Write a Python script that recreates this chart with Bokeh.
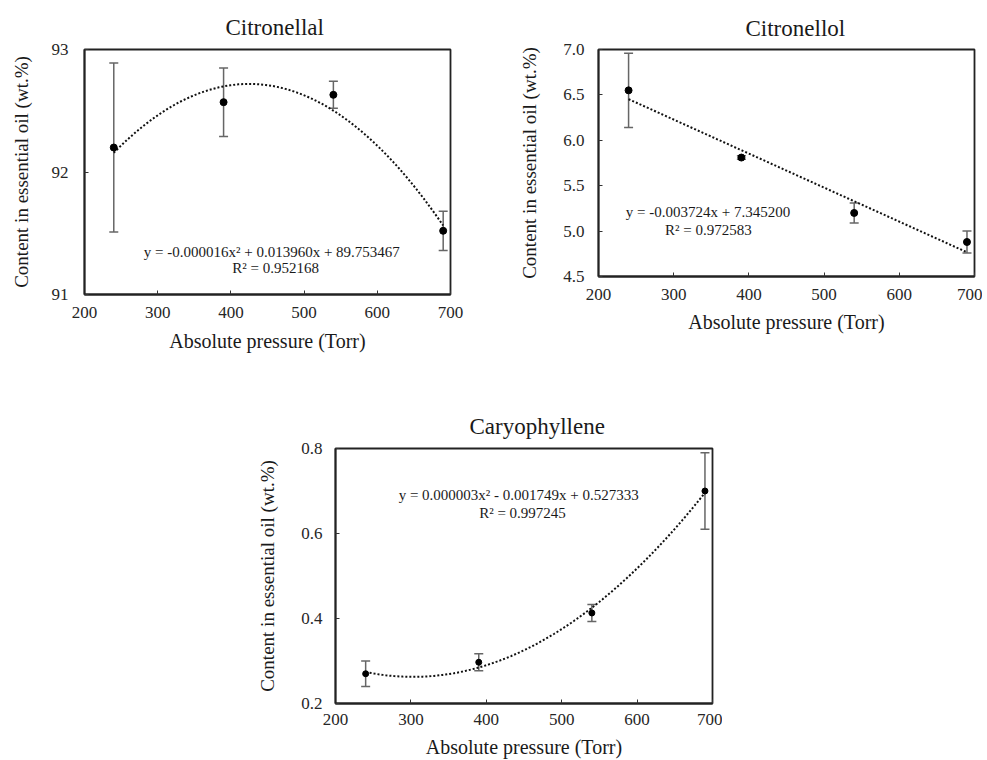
import numpy as np
from bokeh.plotting import figure
from bokeh.layouts import column, row
from bokeh.models import (Range1d, FixedTicker, PrintfTickFormatter, Whisker, TeeHead,
                          ColumnDataSource, Label, Spacer)
from bokeh.embed import file_html
from bokeh.resources import INLINE

# ---------------- data ----------------
pressure = [240, 390, 540, 690]

citronellal = [92.20, 92.57, 92.63, 91.52]
citronellal_err = [0.69, 0.28, 0.11, 0.16]

citronellol = [6.55, 5.81, 5.20, 4.88]
citronellol_err = [0.41, 0.02, 0.11, 0.12]

caryophyllene = [0.270, 0.297, 0.413, 0.700]
caryophyllene_err = [0.030, 0.020, 0.020, 0.090]

x_ticks = [200, 300, 400, 500, 600, 700]
citronellal_ticks = [91, 92, 93]
citronellol_ticks = [4.5, 5.0, 5.5, 6.0, 6.5, 7.0]
caryophyllene_ticks = [0.2, 0.4, 0.6, 0.8]

titles = ["Citronellal", "Citronellol", "Caryophyllene"]
equations = ["y = -0.000016x\u00b2  + 0.013960x  + 89.753467",
             "y = -0.003724x  + 7.345200",
             "y = 0.000003x\u00b2  - 0.001749x  + 0.527333"]
r2_texts = ["R\u00b2 = 0.952168", "R\u00b2 = 0.972583", "R\u00b2 = 0.997245"]
x_label = "Absolute pressure (Torr)"
y_label = "Content in essential oil (wt.%)"

FONT = "Liberation Serif"
TXT = "#1a1a1a"


def make_plot(title, yvals, yerr, yr, yticks, fmt, deg, eq, r2,
              fw, fh, bl, bt, br, bb, title_offset, title_standoff, eq_xy, r2_xy,
              ylab_standoff, ytick_standoff, xtick_standoff, xlab_standoff,
              msize):
    p = figure(frame_width=fw, frame_height=fh, min_border_left=bl, min_border_top=bt,
               min_border_right=br, min_border_bottom=bb,
               x_range=Range1d(200, 700), y_range=Range1d(*yr),
               output_backend="svg", toolbar_location=None, tools="")
    p.title.text = title
    p.title.text_font = FONT
    p.title.text_font_size = "23px"
    p.title.text_font_style = "normal"
    p.title.text_color = TXT
    p.title.align = "left"
    p.title.offset = title_offset
    p.title.standoff = title_standoff

    p.grid.visible = False
    p.outline_line_color = "#222222"
    p.outline_line_width = 1.8
    p.background_fill_color = "white"
    p.border_fill_color = "white"

    p.xaxis.ticker = FixedTicker(ticks=x_ticks)
    p.yaxis.ticker = FixedTicker(ticks=yticks)
    p.yaxis.formatter = PrintfTickFormatter(format=fmt)
    for ax in (p.xaxis[0], p.yaxis[0]):
        ax.axis_line_color = "#222222"
        ax.axis_line_width = 1.8
        ax.major_tick_in = 4
        ax.major_tick_out = 0
        ax.major_tick_line_color = "#333333"
        ax.major_tick_line_width = 1
        ax.minor_tick_line_color = None
        ax.major_label_text_font = FONT
        ax.major_label_text_font_size = "17px"
        ax.major_label_text_color = "#262626"
        ax.axis_label_text_font = FONT
        ax.axis_label_text_font_style = "normal"
        ax.axis_label_text_color = TXT
    p.xaxis.axis_label = x_label
    p.yaxis.axis_label = y_label
    p.xaxis.axis_label_text_font_size = "20px"
    p.yaxis.axis_label_text_font_size = "19px"
    p.yaxis.axis_label_standoff = ylab_standoff
    p.yaxis.major_label_standoff = ytick_standoff
    p.xaxis.major_label_standoff = xtick_standoff
    p.xaxis.axis_label_standoff = xlab_standoff

    src = ColumnDataSource(dict(x=pressure, y=yvals,
                                upper=[v + e for v, e in zip(yvals, yerr)],
                                lower=[v - e for v, e in zip(yvals, yerr)]))
    wcol = "#666666"
    w = Whisker(source=src, base="x", upper="upper", lower="lower",
                line_color=wcol, line_width=1.5,
                upper_head=TeeHead(size=9, line_color=wcol, line_width=1.5),
                lower_head=TeeHead(size=9, line_color=wcol, line_width=1.5))
    p.add_layout(w)

    coef = np.polyfit(pressure, yvals, deg)
    xs = np.linspace(pressure[0], pressure[-1], 120)
    p.line(xs, np.polyval(coef, xs), line_color="#111111", line_width=2, line_dash="2 2")

    p.scatter("x", "y", source=src, size=msize, color="black")

    p.add_layout(Label(x=eq_xy[0], y=eq_xy[1], text=eq, text_font=FONT,
                       text_font_size="15px", text_color=TXT, text_align="center",
                       text_baseline="middle"))
    p.add_layout(Label(x=r2_xy[0], y=r2_xy[1], text=r2, text_font=FONT,
                       text_font_size="15px", text_color=TXT, text_align="center",
                       text_baseline="middle"))
    return p


p1 = make_plot(titles[0], citronellal, citronellal_err, (91, 93), citronellal_ticks, "%d", 2,
               equations[0], r2_texts[0],
               fw=366, fh=245, bl=84, bt=49, br=58, bb=64,
               title_offset=141, title_standoff=19, eq_xy=(461, 91.344), r2_xy=(461, 91.213),
               ylab_standoff=17, ytick_standoff=16, xtick_standoff=12, xlab_standoff=9,
               msize=7)

p2 = make_plot(titles[1], citronellol, citronellol_err, (4.5, 7.0), citronellol_ticks, "%.1f", 1,
               equations[1], r2_texts[1],
               fw=376, fh=227, bl=90, bt=45, br=8, bb=86,
               title_offset=147, title_standoff=17, eq_xy=(348, 5.208), r2_xy=(346, 5.009),
               ylab_standoff=20, ytick_standoff=14, xtick_standoff=12, xlab_standoff=8,
               msize=7)

p3 = make_plot(titles[2], caryophyllene, caryophyllene_err, (0.2, 0.8), caryophyllene_ticks, "%.1f", 2,
               equations[2], r2_texts[2],
               fw=377, fh=255, bl=100, bt=90, br=10, bb=55,
               title_offset=134, title_standoff=19, eq_xy=(448, 0.690), r2_xy=(448, 0.648),
               ylab_standoff=20, ytick_standoff=13, xtick_standoff=10, xlab_standoff=8,
               msize=6)

layout = column(row(p1, p2), row(Spacer(width=235, height=10), p3))

open("out.html", "w").write(file_html(layout, INLINE))
